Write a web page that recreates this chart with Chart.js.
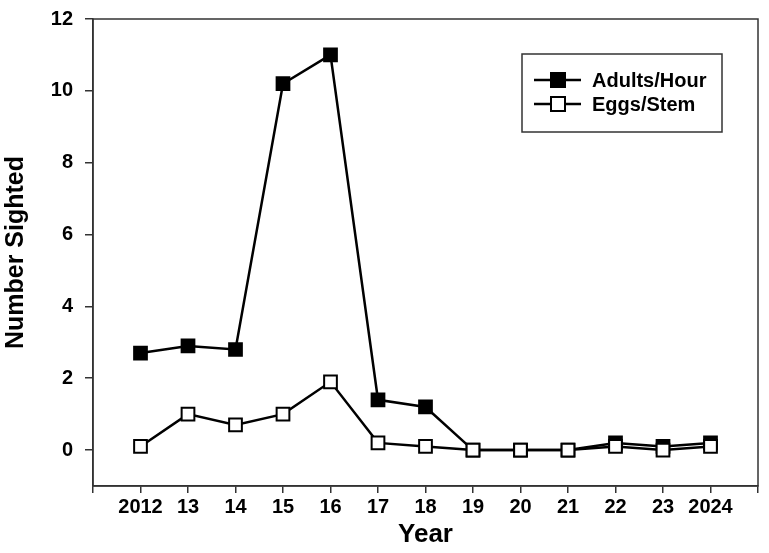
<!DOCTYPE html>
<html>
<head>
<meta charset="utf-8">
<script src="https://cdn.jsdelivr.net/npm/chart.js@4.4.1/dist/chart.umd.min.js"></script>
<style>
  html, body { margin: 0; padding: 0; background: #fff; }
  #wrap { width: 769px; height: 553px; }
</style>
</head>
<body>
<div id="wrap"><canvas id="sightings" width="769" height="553"></canvas></div>
<script>
const years = [2012, 2013, 2014, 2015, 2016, 2017, 2018, 2019, 2020, 2021, 2022, 2023, 2024];
const adultsPerHour = [2.7, 2.9, 2.8, 10.2, 11.0, 1.4, 1.2, 0.0, 0.0, 0.0, 0.2, 0.1, 0.2];
const eggsPerStem = [0.1, 1.0, 0.7, 1.0, 1.9, 0.2, 0.1, 0.0, 0.0, 0.0, 0.1, 0.0, 0.1];
const yTicks = [0, 2, 4, 6, 8, 10, 12];

const FONT = "'Liberation Sans', Arial, sans-serif";
const AXIS = "#333";

function yearLabel(v) {
  if (v < 2012 || v > 2024) return "";
  if (v === 2012 || v === 2024) return String(v);
  return String(v).slice(2);
}

// box round the plot and the legend, drawn on top
const frameAndLegend = {
  id: "frameAndLegend",
  afterDraw(chart) {
    const { ctx, chartArea: a } = chart;
    ctx.save();
    ctx.strokeStyle = AXIS;
    ctx.lineWidth = 1.5;
    ctx.strokeRect(a.left, a.top, a.right - a.left, a.bottom - a.top);

    // legend
    ctx.fillStyle = "#fff";
    ctx.fillRect(522, 54, 200, 78);
    ctx.strokeRect(522, 54, 200, 78);
    const items = [
      { text: "Adults/Hour", fill: "#000", y: 80 },
      { text: "Eggs/Stem", fill: "#fff", y: 104 }
    ];
    ctx.font = "bold 20px " + FONT;
    ctx.textBaseline = "middle";
    items.forEach(it => {
      ctx.strokeStyle = "#000";
      ctx.lineWidth = 2.5;
      ctx.beginPath();
      ctx.moveTo(534, it.y);
      ctx.lineTo(581, it.y);
      ctx.stroke();
      ctx.fillStyle = it.fill;
      ctx.lineWidth = 2;
      ctx.fillRect(551, it.y - 7, 14, 14);
      ctx.strokeRect(551, it.y - 7, 14, 14);
      ctx.fillStyle = "#000";
      ctx.fillText(it.text, 592, it.y + 1);
    });
    ctx.restore();
  }
};

new Chart(document.getElementById("sightings"), {
  type: "line",
  data: {
    datasets: [
      {
        label: "Eggs/Stem",
        data: years.map((yr, i) => ({ x: yr, y: eggsPerStem[i] })),
        borderColor: "#000",
        borderWidth: 2.5,
        pointStyle: "rect",
        pointRadius: 9,
        pointBackgroundColor: "#fff",
        pointBorderColor: "#000",
        pointBorderWidth: 2,
        tension: 0,
        order: 0
      },
      {
        label: "Adults/Hour",
        data: years.map((yr, i) => ({ x: yr, y: adultsPerHour[i] })),
        borderColor: "#000",
        borderWidth: 2.5,
        pointStyle: "rect",
        pointRadius: 9,
        pointBackgroundColor: "#000",
        pointBorderColor: "#000",
        pointBorderWidth: 2,
        tension: 0,
        order: 1
      }
    ]
  },
  options: {
    responsive: false,
    animation: false,
    layout: { padding: { top: 19, right: 8, left: 0, bottom: 0 } },
    plugins: { legend: { display: false }, tooltip: { enabled: false } },
    scales: {
      x: {
        type: "linear",
        min: 2011,
        max: 2025,
        afterFit: s => { s.height = 67; s.paddingLeft = 0; s.paddingRight = 0; },
        grid: { drawOnChartArea: false, color: AXIS, lineWidth: 1.5, tickLength: 7 },
        border: { color: AXIS, width: 1.5 },
        ticks: {
          stepSize: 1,
          autoSkip: false,
          maxRotation: 0,
          padding: 2,
          color: "#000",
          font: { family: FONT, size: 20, weight: "bold" },
          callback: v => yearLabel(v)
        },
        title: {
          display: true,
          text: "Year",
          color: "#000",
          font: { family: FONT, size: 26, weight: "bold" },
          padding: { top: 0, bottom: 3 }
        }
      },
      y: {
        min: -1,
        max: 12,
        afterFit: s => { s.width = 93; s.paddingTop = 0; s.paddingBottom = 0; },
        afterBuildTicks: s => { s.ticks = yTicks.map(v => ({ value: v })); },
        grid: { drawOnChartArea: false, color: AXIS, lineWidth: 1.5, tickLength: 8 },
        border: { color: AXIS, width: 1.5 },
        ticks: {
          padding: 12,
          color: "#000",
          font: { family: FONT, size: 20, weight: "bold" }
        },
        title: {
          display: true,
          text: "Number Sighted",
          color: "#000",
          font: { family: FONT, size: 25, weight: "bold" },
          padding: { top: 1, bottom: 0 }
        }
      }
    }
  },
  plugins: [frameAndLegend]
});
</script>
</body>
</html>
